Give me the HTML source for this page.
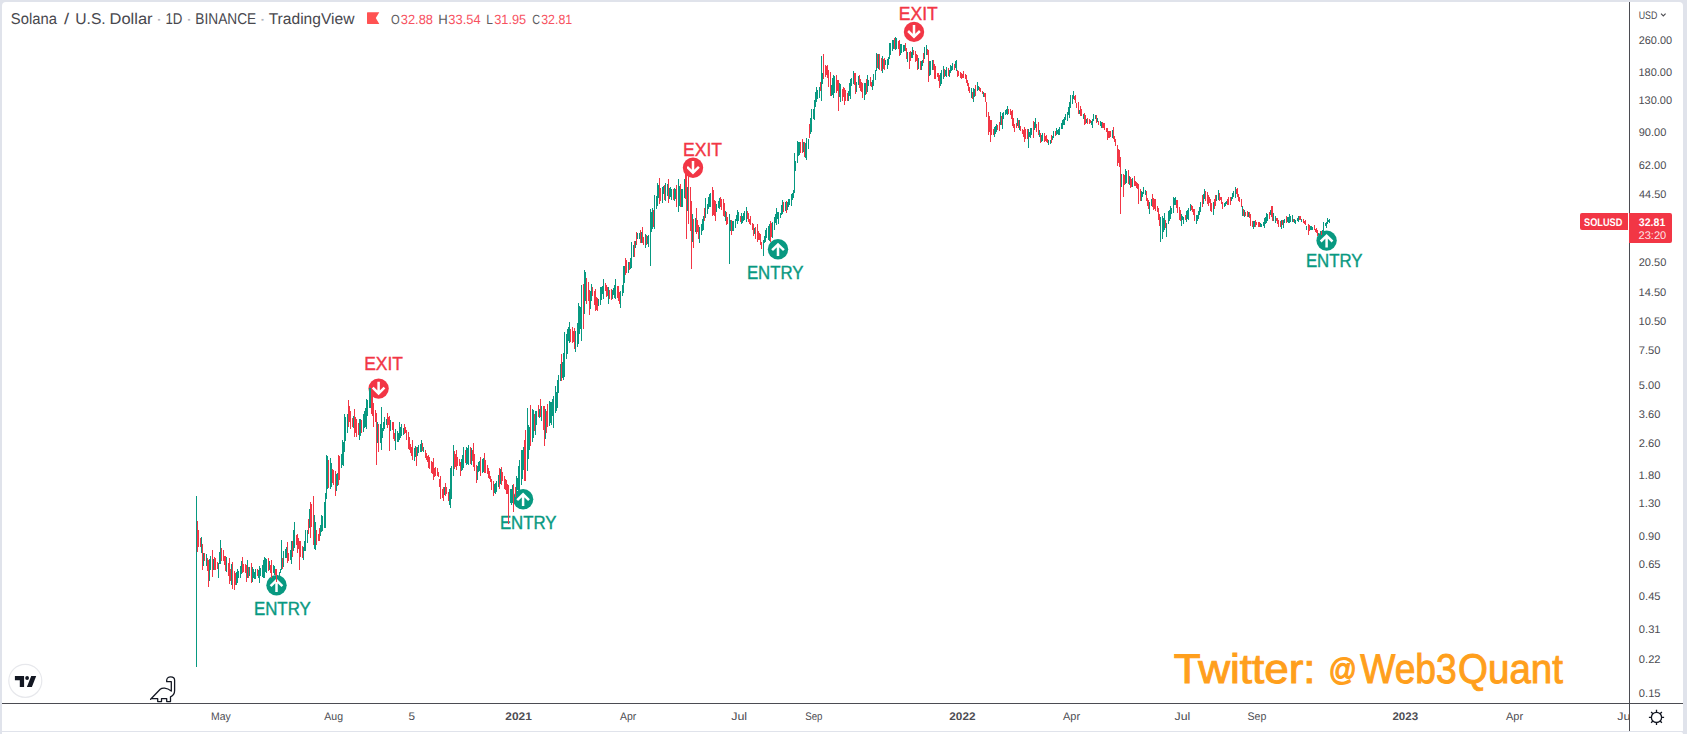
<!DOCTYPE html>
<html lang="en">
<head>
<meta charset="utf-8">
<title>Solana / U.S. Dollar - 1D - BINANCE - TradingView</title>
<style>
html,body{margin:0;padding:0;background:#e0e3eb;}
body{width:1687px;height:734px;overflow:hidden;}
svg{display:block;}
text{font-family:"Liberation Sans", Arial, sans-serif;text-rendering:geometricPrecision;}
</style>
</head>
<body>
<svg width="1687" height="734" viewBox="0 0 1687 734">
<rect x="0" y="0" width="1687" height="734" fill="#e0e3eb"/>
<path d="M2 6a4 4 0 0 1 4-4h1673a4 4 0 0 1 4 4v725h-1681z" fill="#fff"/>
<path d="M2 732h1679a2 2 0 0 1 2 2h-1681z" fill="#fff"/>
<g id="time-axis">
<text transform="translate(1617.21 719.90) scale(1.1318 1)" font-size="11" fill="#4c4c52">Jul</text>
<rect x="1629" y="704" width="54" height="27" fill="#fff"/>
<text transform="translate(211.08 719.90) scale(0.9487 1)" font-size="11" fill="#4c4c52">May</text>
<text transform="translate(324.30 719.90) scale(0.9549 1)" font-size="11" fill="#4c4c52">Aug</text>
<text transform="translate(408.53 719.90) scale(1.0698 1)" font-size="11" fill="#4c4c52">5</text>
<text transform="translate(505.33 719.90) scale(1.0816 1)" font-size="11" font-weight="bold" fill="#4c4c52">2021</text>
<text transform="translate(620.10 719.90) scale(0.9494 1)" font-size="11" fill="#4c4c52">Apr</text>
<text transform="translate(731.21 719.90) scale(1.1318 1)" font-size="11" fill="#4c4c52">Jul</text>
<text transform="translate(805.20 719.90) scale(0.8838 1)" font-size="11" fill="#4c4c52">Sep</text>
<text transform="translate(949.33 719.90) scale(1.0690 1)" font-size="11" font-weight="bold" fill="#4c4c52">2022</text>
<text transform="translate(1063.00 719.90) scale(0.9963 1)" font-size="11" fill="#4c4c52">Apr</text>
<text transform="translate(1174.51 719.90) scale(1.1166 1)" font-size="11" fill="#4c4c52">Jul</text>
<text transform="translate(1247.47 719.90) scale(0.9637 1)" font-size="11" fill="#4c4c52">Sep</text>
<text transform="translate(1392.44 719.90) scale(1.0481 1)" font-size="11" font-weight="bold" fill="#4c4c52">2023</text>
<text transform="translate(1506.00 719.90) scale(0.9963 1)" font-size="11" fill="#4c4c52">Apr</text>
</g>
<rect x="2" y="703" width="1681" height="1" fill="#4b4c52"/>
<rect x="1629" y="2" width="1" height="729" fill="#4b4c52"/>
<g id="price-axis">
<text transform="translate(1638.69 43.50) scale(0.9922 1)" font-size="11" fill="#4c4c52">260.00</text>
<text transform="translate(1638.51 75.70) scale(0.9975 1)" font-size="11" fill="#4c4c52">180.00</text>
<text transform="translate(1638.51 104.19) scale(0.9975 1)" font-size="11" fill="#4c4c52">130.00</text>
<text transform="translate(1638.68 136.39) scale(1.0023 1)" font-size="11" fill="#4c4c52">90.00</text>
<text transform="translate(1638.68 169.02) scale(1.0023 1)" font-size="11" fill="#4c4c52">62.00</text>
<text transform="translate(1639.03 198.06) scale(0.9896 1)" font-size="11" fill="#4c4c52">44.50</text>
<text transform="translate(1638.68 265.92) scale(1.0023 1)" font-size="11" fill="#4c4c52">20.50</text>
<text transform="translate(1638.51 296.24) scale(1.0088 1)" font-size="11" fill="#4c4c52">14.50</text>
<text transform="translate(1638.51 324.51) scale(1.0088 1)" font-size="11" fill="#4c4c52">10.50</text>
<text transform="translate(1638.68 353.97) scale(1.0136 1)" font-size="11" fill="#4c4c52">7.50</text>
<text transform="translate(1638.85 389.47) scale(1.0052 1)" font-size="11" fill="#4c4c52">5.00</text>
<text transform="translate(1638.85 418.23) scale(1.0052 1)" font-size="11" fill="#4c4c52">3.60</text>
<text transform="translate(1638.68 446.73) scale(1.0136 1)" font-size="11" fill="#4c4c52">2.60</text>
<text transform="translate(1638.50 478.93) scale(1.0221 1)" font-size="11" fill="#4c4c52">1.80</text>
<text transform="translate(1638.50 507.42) scale(1.0221 1)" font-size="11" fill="#4c4c52">1.30</text>
<text transform="translate(1638.85 539.62) scale(1.0052 1)" font-size="11" fill="#4c4c52">0.90</text>
<text transform="translate(1638.85 568.11) scale(1.0136 1)" font-size="11" fill="#4c4c52">0.65</text>
<text transform="translate(1638.85 600.31) scale(1.0136 1)" font-size="11" fill="#4c4c52">0.45</text>
<text transform="translate(1638.85 632.94) scale(1.0136 1)" font-size="11" fill="#4c4c52">0.31</text>
<text transform="translate(1638.85 662.97) scale(1.0136 1)" font-size="11" fill="#4c4c52">0.22</text>
<text transform="translate(1638.85 696.51) scale(1.0136 1)" font-size="11" fill="#4c4c52">0.15</text>
<text transform="translate(1638.65 18.80) scale(0.8034 1)" font-size="11" fill="#4c4c52">USD</text>
<path d="M1661 13.6l2.3 2.3 2.3-2.3" fill="none" stroke="#4c4c52" stroke-width="1.1"/>
</g>
<path d="M1582 213h46v17h-46a2 2 0 0 1-2-2v-13a2 2 0 0 1 2-2z" fill="#f23645"/>
<path d="M1629 213h41a2 2 0 0 1 2 2v26a2 2 0 0 1-2 2h-41z" fill="#f23645"/>
<text transform="translate(1584.06 225.80) scale(0.8347 1)" font-size="11" font-weight="bold" fill="#fff">SOLUSD</text>
<text transform="translate(1638.83 225.80) scale(0.9601 1)" font-size="11" font-weight="bold" fill="#fff">32.81</text>
<text transform="translate(1638.48 238.80) scale(1.0098 1)" font-size="11" fill="#fff" fill-opacity="0.88">23:20</text>
<g id="legend">
<text transform="translate(10.84 24.00) scale(0.9484 1)" font-size="15.6" fill="#48484e">Solana</text>
<text transform="translate(63.90 24.00) scale(1.1852 1)" font-size="15.6" fill="#48484e">/</text>
<text transform="translate(75.22 24.00) scale(1.0052 1)" font-size="15.6" fill="#48484e">U.S.</text>
<text transform="translate(109.51 24.00) scale(1.0570 1)" font-size="15.6" fill="#48484e">Dollar</text>
<text transform="translate(155.40 24.00) scale(1.3480 1)" font-size="15.6" fill="#b2b5be">·</text>
<text transform="translate(165.47 24.00) scale(0.8521 1)" font-size="15.6" fill="#48484e">1D</text>
<text transform="translate(185.40 24.00) scale(1.3480 1)" font-size="15.6" fill="#b2b5be">·</text>
<text transform="translate(195.33 24.00) scale(0.8789 1)" font-size="15.6" fill="#48484e">BINANCE</text>
<text transform="translate(259.00 24.00) scale(1.3480 1)" font-size="15.6" fill="#b2b5be">·</text>
<text transform="translate(268.66 24.00) scale(1.0001 1)" font-size="15.6" fill="#48484e">TradingView</text>
<path d="M367.6 12.3h11.7l-3.5 5.8 3.5 5.8h-11.7a.6 .6 0 0 1-.6-.6v-10.4a.6 .6 0 0 1 .6-.6z" fill="#ff5252"/>
<text transform="translate(391.08 24.20) scale(0.8358 1)" font-size="13.4" fill="#5c5c60">O</text>
<text transform="translate(400.80 24.20) scale(0.9610 1)" font-size="13.4" fill="#f7525f">32.88</text>
<text transform="translate(438.37 24.20) scale(0.9818 1)" font-size="13.4" fill="#5c5c60">H</text>
<text transform="translate(448.30 24.20) scale(0.9640 1)" font-size="13.4" fill="#f7525f">33.54</text>
<text transform="translate(486.27 24.20) scale(0.8893 1)" font-size="13.4" fill="#5c5c60">L</text>
<text transform="translate(494.20 24.20) scale(0.9548 1)" font-size="13.4" fill="#f7525f">31.95</text>
<text transform="translate(532.20 24.20) scale(0.8038 1)" font-size="13.4" fill="#5c5c60">C</text>
<text transform="translate(541.21 24.20) scale(0.9241 1)" font-size="13.4" fill="#f7525f">32.81</text>
</g>
<text transform="translate(1173.71 682.60) scale(1.0633 1)" font-size="41.4" fill="#ff9f1c" stroke="#ff9f1c" stroke-width="1">Twitter:</text>
<text transform="translate(1328.65 680.40) scale(0.8896 1)" font-size="31" fill="#ff9f1c" stroke="#ff9f1c" stroke-width="1.3">@</text>
<text transform="translate(1360.20 682.60) scale(0.8995 1)" font-size="41.4" fill="#ff9f1c" stroke="#ff9f1c" stroke-width="1">Web3</text>
<text transform="translate(1458.10 682.60) scale(0.9290 1)" font-size="41.4" fill="#ff9f1c" stroke="#ff9f1c" stroke-width="1">Quant</text>
<g id="tv-logo">
<circle cx="25.3" cy="680.8" r="16.5" fill="#fff" stroke="#e7e8ec" stroke-width="1.2"/>
<path d="M14.9 675.9h9.2v11h-4.3v-6.7h-4.9z" fill="#131722"/>
<circle cx="27.1" cy="678" r="1.9" fill="#131722"/>
<path d="M31.2 675.9h5l-4.3 11h-5z" fill="#131722"/>
</g>
<path transform="translate(140 670)" d="M10.6 29.3 L20.2 19.3 C22 17.6 26.5 17.2 31.3 21 V11.7 H26.7 V10.3 C26.7 5.6 34.6 5.6 34.6 10.3 V20.5 C34.6 24 32.5 26 30.5 26.9 V31.6 H26.7 V28.6 H21.5 V31.6 H17.7 V28.6 H11.5 Z" fill="none" stroke="#131722" stroke-width="1.3" stroke-linejoin="round"/>
<g fill="none" stroke="#131722" stroke-width="1.3"><circle cx="1656.5" cy="717.4" r="5.1"/><path d="M1661.60 717.40L1664.10 717.40M1660.11 721.01L1661.87 722.77M1656.50 722.50L1656.50 725.00M1652.89 721.01L1651.13 722.77M1651.40 717.40L1648.90 717.40M1652.89 713.79L1651.13 712.03M1656.50 712.30L1656.50 709.80M1660.11 713.79L1661.87 712.03"/></g>
<g id="markers">
<circle cx="276.5" cy="585.2" r="10.2" fill="#089981"/>
<path d="M276.5 592.0V580.2M270.6 586.1L276.5 580.3L282.4 586.1" fill="none" stroke="#fff" stroke-width="2.5" stroke-linejoin="miter"/>
<text transform="translate(253.88 614.70) scale(0.8900 1)" font-size="19.0" fill="#089981" stroke="#089981" stroke-width="0.4">ENTRY</text>
<circle cx="378.6" cy="388.6" r="10.2" fill="#f23645"/>
<path d="M378.6 381.8V393.6M372.7 387.7L378.6 393.5L384.5 387.7" fill="none" stroke="#fff" stroke-width="2.5" stroke-linejoin="miter"/>
<text transform="translate(364.14 369.80) scale(0.9178 1)" font-size="19.0" fill="#f23645" stroke="#f23645" stroke-width="0.4">EXIT</text>
<circle cx="523.1" cy="499.2" r="10.2" fill="#089981"/>
<path d="M523.1 506.0V494.2M517.2 500.1L523.1 494.3L529.0 500.1" fill="none" stroke="#fff" stroke-width="2.5" stroke-linejoin="miter"/>
<text transform="translate(499.89 528.80) scale(0.8852 1)" font-size="19.0" fill="#089981" stroke="#089981" stroke-width="0.4">ENTRY</text>
<circle cx="693" cy="167.8" r="10.2" fill="#f23645"/>
<path d="M693 161.0V172.8M687.1 166.9L693 172.7L698.9 166.9" fill="none" stroke="#fff" stroke-width="2.5" stroke-linejoin="miter"/>
<text transform="translate(683.03 155.80) scale(0.9228 1)" font-size="19.0" fill="#f23645" stroke="#f23645" stroke-width="0.4">EXIT</text>
<circle cx="778" cy="249.3" r="10.2" fill="#089981"/>
<path d="M778 256.1V244.3M772.1 250.2L778 244.4L783.9 250.2" fill="none" stroke="#fff" stroke-width="2.5" stroke-linejoin="miter"/>
<text transform="translate(746.89 279.00) scale(0.8852 1)" font-size="19.0" fill="#089981" stroke="#089981" stroke-width="0.4">ENTRY</text>
<circle cx="914" cy="31.9" r="10.2" fill="#f23645"/>
<path d="M914 25.1V36.9M908.1 31.0L914 36.8L919.9 31.0" fill="none" stroke="#fff" stroke-width="2.5" stroke-linejoin="miter"/>
<text transform="translate(898.83 19.90) scale(0.9203 1)" font-size="19.0" fill="#f23645" stroke="#f23645" stroke-width="0.4">EXIT</text>
<circle cx="1326.6" cy="240.6" r="10.2" fill="#089981"/>
<path d="M1326.6 247.4V235.6M1320.7 241.5L1326.6 235.7L1332.5 241.5" fill="none" stroke="#fff" stroke-width="2.5" stroke-linejoin="miter"/>
<text transform="translate(1305.89 266.80) scale(0.8852 1)" font-size="19.0" fill="#089981" stroke="#089981" stroke-width="0.4">ENTRY</text>
</g>
<g id="candles" shape-rendering="crispEdges"><path d="M196 496v171h1v-171zM201 537v16h1v-16zM203 553v13h1v-13zM206 554v12h1v-12zM209 559v22h1v-22zM210 556v14h1v-14zM213 559v11h1v-11zM218 563v15h1v-15zM219 552v12h1v-12zM220 540v24h1v-24zM226 557v15h1v-15zM231 564v21h1v-21zM236 572v13h1v-13zM237 569v14h1v-14zM238 571v7h1v-7zM240 566v12h1v-12zM241 561v13h1v-13zM247 560v18h1v-18zM249 567v9h1v-9zM252 567v15h1v-15zM253 569v9h1v-9zM254 572v7h1v-7zM255 569v10h1v-10zM258 570v8h1v-8zM259 566v17h1v-17zM260 568v8h1v-8zM262 565v12h1v-12zM263 560v18h1v-18zM264 557v21h1v-21zM265 558v14h1v-14zM266 559v14h1v-14zM269 561v9h1v-9zM273 565v8h1v-8zM274 566v9h1v-9zM277 575v4h1v-4zM279 572v6h1v-6zM280 569v4h1v-4zM281 540v30h1v-30zM283 551v16h1v-16zM285 549v9h1v-9zM286 547v11h1v-11zM290 550v10h1v-10zM291 541v23h1v-23zM293 530v21h1v-21zM294 522v26h1v-26zM303 547v13h1v-13zM304 541v10h1v-10zM305 530v21h1v-21zM307 530v13h1v-13zM309 509v19h1v-19zM314 515v34h1v-34zM315 522v28h1v-28zM320 525v11h1v-11zM321 515v17h1v-17zM322 516v15h1v-15zM324 502v26h1v-26zM325 493v35h1v-35zM326 455v44h1v-44zM327 456v33h1v-33zM330 458v31h1v-31zM331 463v24h1v-24zM336 474v17h1v-17zM337 473v13h1v-13zM341 454v14h1v-14zM342 440v25h1v-25zM343 442v24h1v-24zM344 414v38h1v-38zM345 417v24h1v-24zM347 414v19h1v-19zM353 416v12h1v-12zM359 419v21h1v-21zM360 419v17h1v-17zM363 414v18h1v-18zM364 411v17h1v-17zM365 408v19h1v-19zM366 399v30h1v-30zM367 400v16h1v-16zM369 388v20h1v-20zM370 388v20h1v-20zM377 422v21h1v-21zM380 424v19h1v-19zM381 407v43h1v-43zM382 428v10h1v-10zM383 422v9h1v-9zM384 417v12h1v-12zM386 419v6h1v-6zM390 420v11h1v-11zM395 429v21h1v-21zM397 431v11h1v-11zM398 433v9h1v-9zM399 422v18h1v-18zM400 427v11h1v-11zM401 424v12h1v-12zM403 428v7h1v-7zM414 448v13h1v-13zM415 446v11h1v-11zM417 447v9h1v-9zM418 445v8h1v-8zM420 444v8h1v-8zM421 440v12h1v-12zM423 447v5h1v-5zM444 487v8h1v-8zM449 489v16h1v-16zM450 468v40h1v-40zM451 466v33h1v-33zM453 445v31h1v-31zM461 459v12h1v-12zM462 455v15h1v-15zM463 447v21h1v-21zM466 447v18h1v-18zM467 448v16h1v-16zM468 445v20h1v-20zM471 448v17h1v-17zM477 466v14h1v-14zM478 462v10h1v-10zM479 461v10h1v-10zM482 459v14h1v-14zM483 458v14h1v-14zM494 484v9h1v-9zM495 483v11h1v-11zM496 481v11h1v-11zM498 475v12h1v-12zM500 469v15h1v-15zM510 489v14h1v-14zM511 489v16h1v-16zM512 485v18h1v-18zM516 476v20h1v-20zM517 478v12h1v-12zM518 466v25h1v-25zM519 460v32h1v-32zM521 450v35h1v-35zM522 450v29h1v-29zM523 447v23h1v-23zM527 408v63h1v-63zM528 425v34h1v-34zM529 427v23h1v-23zM532 409v33h1v-33zM533 410v28h1v-28zM535 411v24h1v-24zM536 411v14h1v-14zM539 409v9h1v-9zM541 406v15h1v-15zM545 409v30h1v-30zM549 401v25h1v-25zM550 402v21h1v-21zM551 402v23h1v-23zM552 399v17h1v-17zM553 396v32h1v-32zM555 386v27h1v-27zM556 392v19h1v-19zM557 380v28h1v-28zM558 375v18h1v-18zM560 364v17h1v-17zM562 362v16h1v-16zM563 353v27h1v-27zM564 332v45h1v-45zM566 334v25h1v-25zM567 329v25h1v-25zM568 327v14h1v-14zM569 322v21h1v-21zM575 331v21h1v-21zM577 323v24h1v-24zM578 303v41h1v-41zM579 306v28h1v-28zM580 307v22h1v-22zM581 285v56h1v-56zM584 270v44h1v-44zM585 272v29h1v-29zM590 291v18h1v-18zM591 284v17h1v-17zM598 299v7h1v-7zM600 287v18h1v-18zM601 287v13h1v-13zM602 286v8h1v-8zM603 279v20h1v-20zM608 287v17h1v-17zM612 290v9h1v-9zM613 288v7h1v-7zM614 285v13h1v-13zM615 279v20h1v-20zM620 291v17h1v-17zM622 285v11h1v-11zM623 266v27h1v-27zM624 266v17h1v-17zM628 262v11h1v-11zM630 258v11h1v-11zM631 242v26h1v-26zM633 245v12h1v-12zM635 241v7h1v-7zM637 233v6h1v-6zM639 233v6h1v-6zM641 232v11h1v-11zM645 234v14h1v-14zM647 236v8h1v-8zM648 235v12h1v-12zM650 209v57h1v-57zM651 212v20h1v-20zM652 208v21h1v-21zM654 195v34h1v-34zM656 196v13h1v-13zM657 183v23h1v-23zM658 185v13h1v-13zM662 187v16h1v-16zM663 186v8h1v-8zM665 183v18h1v-18zM667 184v12h1v-12zM669 188v11h1v-11zM670 187v10h1v-10zM671 189v11h1v-11zM674 188v13h1v-13zM675 189v10h1v-10zM678 179v33h1v-33zM679 186v20h1v-20zM681 189v18h1v-18zM682 189v18h1v-18zM684 179v19h1v-19zM687 187v24h1v-24zM692 214v28h1v-28zM695 218v14h1v-14zM699 227v16h1v-16zM701 224v11h1v-11zM702 219v12h1v-12zM703 216v14h1v-14zM705 198v20h1v-20zM707 204v10h1v-10zM708 197v12h1v-12zM709 194v13h1v-13zM710 193v14h1v-14zM716 204v8h1v-8zM718 201v7h1v-7zM719 198v11h1v-11zM725 211v10h1v-10zM729 214v50h1v-50zM730 220v11h1v-11zM732 221v10h1v-10zM733 221v10h1v-10zM735 219v9h1v-9zM736 215v6h1v-6zM737 210v14h1v-14zM738 212v9h1v-9zM741 213v11h1v-11zM742 216v7h1v-7zM743 213v8h1v-8zM744 211v9h1v-9zM746 207v15h1v-15zM754 228v6h1v-6zM763 240v16h1v-16zM764 236v7h1v-7zM765 230v12h1v-12zM766 228v10h1v-10zM768 226v14h1v-14zM769 224v17h1v-17zM772 222v16h1v-16zM774 217v13h1v-13zM775 214v9h1v-9zM776 208v17h1v-17zM777 212v7h1v-7zM778 212v12h1v-12zM780 213v5h1v-5zM781 205v10h1v-10zM782 200v14h1v-14zM785 202v9h1v-9zM787 202v8h1v-8zM788 199v8h1v-8zM789 199v6h1v-6zM791 194v12h1v-12zM792 193v7h1v-7zM793 190v8h1v-8zM794 153v40h1v-40zM795 161v10h1v-10zM797 141v22h1v-22zM798 142v14h1v-14zM799 142v13h1v-13zM803 142v10h1v-10zM805 143v15h1v-15zM806 138v22h1v-22zM808 139v10h1v-10zM810 118v16h1v-16zM811 109v23h1v-23zM813 109v10h1v-10zM814 100v20h1v-20zM815 92v15h1v-15zM816 87v15h1v-15zM817 90v9h1v-9zM819 87v11h1v-11zM821 56v45h1v-45zM822 73v11h1v-11zM831 85v11h1v-11zM832 78v17h1v-17zM833 75v23h1v-23zM834 76v17h1v-17zM839 83v14h1v-14zM840 84v18h1v-18zM848 91v10h1v-10zM849 83v13h1v-13zM850 79v20h1v-20zM851 78v8h1v-8zM853 71v13h1v-13zM856 82v10h1v-10zM858 76v9h1v-9zM864 83v17h1v-17zM865 83v12h1v-12zM867 75v17h1v-17zM868 80v6h1v-6zM872 80v10h1v-10zM873 74v12h1v-12zM875 70v10h1v-10zM876 53v18h1v-18zM878 54v15h1v-15zM882 56v17h1v-17zM885 60v5h1v-5zM887 59v10h1v-10zM888 57v8h1v-8zM889 43v16h1v-16zM890 43v12h1v-12zM892 40v11h1v-11zM893 40v9h1v-9zM895 37v13h1v-13zM896 38v11h1v-11zM900 44v11h1v-11zM901 44v9h1v-9zM903 45v7h1v-7zM904 45v6h1v-6zM907 52v10h1v-10zM911 52v6h1v-6zM912 47v11h1v-11zM918 58v11h1v-11zM921 61v9h1v-9zM922 60v6h1v-6zM924 47v12h1v-12zM926 45v10h1v-10zM929 61v15h1v-15zM930 61v14h1v-14zM932 60v10h1v-10zM940 73v13h1v-13zM941 70v14h1v-14zM943 66v13h1v-13zM945 70v6h1v-6zM946 67v10h1v-10zM949 70v7h1v-7zM950 65v8h1v-8zM951 66v5h1v-5zM952 63v7h1v-7zM955 61v7h1v-7zM956 60v11h1v-11zM971 88v10h1v-10zM973 88v14h1v-14zM974 89v8h1v-8zM977 82v9h1v-9zM978 86v4h1v-4zM983 92v5h1v-5zM994 127v10h1v-10zM995 126v8h1v-8zM996 124v8h1v-8zM1000 112v13h1v-13zM1002 113v16h1v-16zM1003 112v7h1v-7zM1005 110v5h1v-5zM1006 109v5h1v-5zM1007 106v9h1v-9zM1017 118v8h1v-8zM1019 120v10h1v-10zM1028 129v19h1v-19zM1029 132v5h1v-5zM1030 128v10h1v-10zM1031 128v7h1v-7zM1034 122v8h1v-8zM1035 118v10h1v-10zM1039 130v7h1v-7zM1041 135v7h1v-7zM1042 133v8h1v-8zM1048 140v5h1v-5zM1050 140v4h1v-4zM1052 136v4h1v-4zM1053 131v7h1v-7zM1056 128v7h1v-7zM1057 130v4h1v-4zM1058 129v6h1v-6zM1059 127v8h1v-8zM1061 123v6h1v-6zM1062 120v9h1v-9zM1063 119v6h1v-6zM1064 117v8h1v-8zM1065 114v6h1v-6zM1067 112v9h1v-9zM1068 107v8h1v-8zM1069 102v16h1v-16zM1070 95v13h1v-13zM1072 95v9h1v-9zM1073 91v8h1v-8zM1079 110v4h1v-4zM1083 114v5h1v-5zM1086 119v4h1v-4zM1091 121v4h1v-4zM1092 119v9h1v-9zM1093 114v7h1v-7zM1095 115v4h1v-4zM1097 118v4h1v-4zM1100 121v5h1v-5zM1101 122v6h1v-6zM1112 130v8h1v-8zM1121 174v13h1v-13zM1125 169v15h1v-15zM1126 171v12h1v-12zM1129 176v9h1v-9zM1132 178v9h1v-9zM1141 191v10h1v-10zM1142 192v5h1v-5zM1143 187v7h1v-7zM1145 190v5h1v-5zM1149 202v12h1v-12zM1151 199v7h1v-7zM1160 217v25h1v-25zM1162 216v23h1v-23zM1163 218v14h1v-14zM1164 213v17h1v-17zM1166 223v14h1v-14zM1168 211v13h1v-13zM1169 210v11h1v-11zM1170 206v13h1v-13zM1171 208v6h1v-6zM1173 197v16h1v-16zM1174 198v7h1v-7zM1175 197v8h1v-8zM1181 214v12h1v-12zM1182 216v4h1v-4zM1183 217v7h1v-7zM1186 211v11h1v-11zM1187 210v9h1v-9zM1188 208v12h1v-12zM1190 204v7h1v-7zM1196 215v9h1v-9zM1197 215v6h1v-6zM1198 211v8h1v-8zM1199 207v8h1v-8zM1200 202v10h1v-10zM1203 194v10h1v-10zM1204 189v10h1v-10zM1213 202v13h1v-13zM1216 195v6h1v-6zM1218 190v10h1v-10zM1224 203v4h1v-4zM1225 202v4h1v-4zM1226 201v3h1v-3zM1231 197v4h1v-4zM1232 193v6h1v-6zM1233 191v6h1v-6zM1235 187v11h1v-11zM1242 206v10h1v-10zM1244 210v7h1v-7zM1248 212v5h1v-5zM1253 221v8h1v-8zM1254 221v6h1v-6zM1260 223v4h1v-4zM1261 224v3h1v-3zM1263 222v4h1v-4zM1264 218v10h1v-10zM1265 217v7h1v-7zM1266 213v10h1v-10zM1267 214v7h1v-7zM1270 210v5h1v-5zM1273 213v8h1v-8zM1275 216v7h1v-7zM1281 220v9h1v-9zM1283 220v8h1v-8zM1284 219v4h1v-4zM1287 217v5h1v-5zM1288 217v6h1v-6zM1289 214v9h1v-9zM1290 216v6h1v-6zM1292 215v7h1v-7zM1294 219v4h1v-4zM1295 220v4h1v-4zM1297 218v3h1v-3zM1298 216v6h1v-6zM1301 219v3h1v-3zM1306 226v4h1v-4zM1310 226v4h1v-4zM1311 226v4h1v-4zM1312 227v3h1v-3zM1318 233v2h1v-2zM1320 231v5h1v-5zM1322 230v5h1v-5zM1323 222v10h1v-10zM1325 223v3h1v-3zM1326 222v6h1v-6zM1327 218v6h1v-6zM1328 220v2h1v-2zM1329 219v4h1v-4z" fill="#089981"/><path d="M197 521v31h1v-31zM198 530v17h1v-17zM200 538v9h1v-9zM202 544v26h1v-26zM204 553v8h1v-8zM207 558v13h1v-13zM208 560v27h1v-27zM212 550v27h1v-27zM214 557v13h1v-13zM215 558v12h1v-12zM217 562v7h1v-7zM221 548v13h1v-13zM223 550v11h1v-11zM224 556v9h1v-9zM225 556v15h1v-15zM228 563v13h1v-13zM229 558v26h1v-26zM230 569v12h1v-12zM232 562v27h1v-27zM234 571v19h1v-19zM235 573v12h1v-12zM242 557v16h1v-16zM243 564v8h1v-8zM245 564v9h1v-9zM246 565v17h1v-17zM248 567v11h1v-11zM251 563v20h1v-20zM257 569v7h1v-7zM268 558v13h1v-13zM270 565v8h1v-8zM271 560v18h1v-18zM275 569v6h1v-6zM276 569v13h1v-13zM282 558v11h1v-11zM287 542v21h1v-21zM288 553v8h1v-8zM292 541v16h1v-16zM296 535v10h1v-10zM297 534v19h1v-19zM298 538v11h1v-11zM299 541v29h1v-29zM300 541v16h1v-16zM302 546v12h1v-12zM308 519v15h1v-15zM310 502v36h1v-36zM311 504v23h1v-23zM313 496v49h1v-49zM316 530v15h1v-15zM318 534v7h1v-7zM319 528v13h1v-13zM328 460v28h1v-28zM332 469v14h1v-14zM333 470v15h1v-15zM335 471v25h1v-25zM338 455v30h1v-30zM339 456v24h1v-24zM348 400v27h1v-27zM349 406v16h1v-16zM350 411v18h1v-18zM352 418v9h1v-9zM354 409v28h1v-28zM355 417v16h1v-16zM356 419v18h1v-18zM358 423v12h1v-12zM361 420v13h1v-13zM371 386v28h1v-28zM372 394v22h1v-22zM373 403v24h1v-24zM375 410v12h1v-12zM376 413v52h1v-52zM378 424v28h1v-28zM387 413v15h1v-15zM388 417v8h1v-8zM389 416v35h1v-35zM392 422v8h1v-8zM393 422v17h1v-17zM394 433v8h1v-8zM404 424v10h1v-10zM405 427v6h1v-6zM406 430v10h1v-10zM408 432v17h1v-17zM409 437v13h1v-13zM410 444v9h1v-9zM411 447v9h1v-9zM412 440v20h1v-20zM416 447v19h1v-19zM422 443v8h1v-8zM425 450v8h1v-8zM426 453v7h1v-7zM427 456v6h1v-6zM428 455v13h1v-13zM429 457v12h1v-12zM431 461v12h1v-12zM432 462v12h1v-12zM433 458v22h1v-22zM434 468v9h1v-9zM435 467v9h1v-9zM437 468v8h1v-8zM438 472v5h1v-5zM439 479v8h1v-8zM440 476v23h1v-23zM442 489v9h1v-9zM443 487v14h1v-14zM445 483v13h1v-13zM446 487v7h1v-7zM448 492v9h1v-9zM454 451v18h1v-18zM455 454v13h1v-13zM456 450v20h1v-20zM457 457v9h1v-9zM459 459v7h1v-7zM460 462v14h1v-14zM465 450v13h1v-13zM470 447v17h1v-17zM472 450v11h1v-11zM473 443v24h1v-24zM474 454v17h1v-17zM476 465v18h1v-18zM480 457v19h1v-19zM484 453v20h1v-20zM485 460v13h1v-13zM487 465v9h1v-9zM488 468v10h1v-10zM489 471v8h1v-8zM490 476v6h1v-6zM491 479v11h1v-11zM493 481v15h1v-15zM499 468v21h1v-21zM501 467v18h1v-18zM502 472v9h1v-9zM504 476v13h1v-13zM505 479v11h1v-11zM506 480v14h1v-14zM507 484v10h1v-10zM508 485v39h1v-39zM513 484v28h1v-28zM515 487v10h1v-10zM524 440v41h1v-41zM525 430v51h1v-51zM530 405v41h1v-41zM534 414v17h1v-17zM538 405v12h1v-12zM540 399v18h1v-18zM543 406v24h1v-24zM544 406v40h1v-40zM546 411v22h1v-22zM547 404v23h1v-23zM561 354v27h1v-27zM570 329v13h1v-13zM572 327v16h1v-16zM573 331v11h1v-11zM574 328v21h1v-21zM583 284v45h1v-45zM586 278v26h1v-26zM588 282v19h1v-19zM589 290v25h1v-25zM592 287v9h1v-9zM594 291v14h1v-14zM595 289v22h1v-22zM596 297v13h1v-13zM597 298v13h1v-13zM605 283v8h1v-8zM606 285v12h1v-12zM607 287v9h1v-9zM609 290v9h1v-9zM611 289v11h1v-11zM617 286v12h1v-12zM618 286v15h1v-15zM619 292v12h1v-12zM625 258v17h1v-17zM626 260v13h1v-13zM629 262v8h1v-8zM634 241v16h1v-16zM636 232v13h1v-13zM640 230v13h1v-13zM642 227v16h1v-16zM643 237v8h1v-8zM646 235v10h1v-10zM653 210v17h1v-17zM659 178v26h1v-26zM660 188v13h1v-13zM664 185v15h1v-15zM668 179v24h1v-24zM673 189v11h1v-11zM676 185v22h1v-22zM680 184v23h1v-23zM685 167v32h1v-32zM686 166v73h1v-73zM688 175v49h1v-49zM690 187v44h1v-44zM691 201v68h1v-68zM693 219v29h1v-29zM696 208v26h1v-26zM697 220v12h1v-12zM698 225v14h1v-14zM704 208v13h1v-13zM712 187v29h1v-29zM713 190v25h1v-25zM714 200v16h1v-16zM715 201v20h1v-20zM720 197v10h1v-10zM721 199v11h1v-11zM723 199v17h1v-17zM724 203v14h1v-14zM726 212v13h1v-13zM727 217v7h1v-7zM731 220v15h1v-15zM740 216v6h1v-6zM747 211v8h1v-8zM748 213v9h1v-9zM749 219v5h1v-5zM750 216v9h1v-9zM752 223v7h1v-7zM753 224v12h1v-12zM755 227v12h1v-12zM757 224v18h1v-18zM758 231v9h1v-9zM759 233v7h1v-7zM760 234v11h1v-11zM761 242v7h1v-7zM770 221v21h1v-21zM771 223v14h1v-14zM783 202v10h1v-10zM786 201v12h1v-12zM800 142v11h1v-11zM802 139v14h1v-14zM804 142v15h1v-15zM809 124v14h1v-14zM820 82v9h1v-9zM823 54v25h1v-25zM825 65v12h1v-12zM826 66v9h1v-9zM827 65v13h1v-13zM828 70v17h1v-17zM830 72v24h1v-24zM836 75v18h1v-18zM837 80v11h1v-11zM838 80v31h1v-31zM842 89v12h1v-12zM843 87v10h1v-10zM844 88v17h1v-17zM845 90v11h1v-11zM847 93v8h1v-8zM854 73v12h1v-12zM855 73v21h1v-21zM859 75v13h1v-13zM860 79v12h1v-12zM861 82v10h1v-10zM862 83v15h1v-15zM866 79v15h1v-15zM870 77v9h1v-9zM871 82v5h1v-5zM877 54v14h1v-14zM879 54v16h1v-16zM881 58v13h1v-13zM883 59v10h1v-10zM884 58v12h1v-12zM894 38v11h1v-11zM898 41v8h1v-8zM899 40v16h1v-16zM905 43v8h1v-8zM906 48v11h1v-11zM909 52v17h1v-17zM910 51v10h1v-10zM913 50v5h1v-5zM915 51v11h1v-11zM916 54v7h1v-7zM917 55v15h1v-15zM920 61v9h1v-9zM923 53v10h1v-10zM927 49v6h1v-6zM928 50v32h1v-32zM933 60v10h1v-10zM934 64v15h1v-15zM935 66v13h1v-13zM937 73v4h1v-4zM938 73v8h1v-8zM939 75v13h1v-13zM944 69v8h1v-8zM948 68v8h1v-8zM954 64v6h1v-6zM957 70v7h1v-7zM958 71v5h1v-5zM960 72v6h1v-6zM961 73v6h1v-6zM962 74v4h1v-4zM963 71v7h1v-7zM965 74v5h1v-5zM966 75v8h1v-8zM967 80v6h1v-6zM968 83v8h1v-8zM969 87v6h1v-6zM972 92v7h1v-7zM975 85v11h1v-11zM979 87v4h1v-4zM980 88v4h1v-4zM982 91v3h1v-3zM984 93v4h1v-4zM985 93v9h1v-9zM986 102v15h1v-15zM988 112v23h1v-23zM989 116v16h1v-16zM990 120v22h1v-22zM991 120v15h1v-15zM993 129v6h1v-6zM997 125v5h1v-5zM999 122v9h1v-9zM1001 116v9h1v-9zM1008 109v5h1v-5zM1010 109v6h1v-6zM1011 111v8h1v-8zM1012 110v16h1v-16zM1013 118v10h1v-10zM1014 124v8h1v-8zM1016 123v5h1v-5zM1018 120v8h1v-8zM1020 126v5h1v-5zM1022 129v5h1v-5zM1023 130v7h1v-7zM1024 127v15h1v-15zM1025 129v10h1v-10zM1027 129v10h1v-10zM1033 121v17h1v-17zM1036 124v8h1v-8zM1038 122v13h1v-13zM1040 133v10h1v-10zM1044 133v9h1v-9zM1045 136v5h1v-5zM1046 135v7h1v-7zM1047 139v4h1v-4zM1051 135v8h1v-8zM1055 131v5h1v-5zM1074 96v4h1v-4zM1075 95v8h1v-8zM1076 103v5h1v-5zM1078 102v12h1v-12zM1080 106v10h1v-10zM1081 109v7h1v-7zM1084 113v12h1v-12zM1085 115v9h1v-9zM1087 118v6h1v-6zM1089 119v5h1v-5zM1090 120v3h1v-3zM1096 115v8h1v-8zM1098 121v4h1v-4zM1102 122v6h1v-6zM1103 123v5h1v-5zM1104 123v7h1v-7zM1106 128v4h1v-4zM1107 128v12h1v-12zM1108 131v7h1v-7zM1109 131v7h1v-7zM1110 131v6h1v-6zM1113 127v12h1v-12zM1114 136v6h1v-6zM1115 139v7h1v-7zM1117 145v21h1v-21zM1118 149v14h1v-14zM1119 150v17h1v-17zM1120 157v57h1v-57zM1123 174v23h1v-23zM1124 175v10h1v-10zM1128 170v14h1v-14zM1130 177v11h1v-11zM1131 179v8h1v-8zM1134 176v10h1v-10zM1135 181v5h1v-5zM1136 182v6h1v-6zM1137 183v6h1v-6zM1138 184v20h1v-20zM1140 189v12h1v-12zM1146 191v10h1v-10zM1147 198v8h1v-8zM1148 200v9h1v-9zM1152 194v13h1v-13zM1153 198v12h1v-12zM1154 199v10h1v-10zM1155 199v12h1v-12zM1157 206v6h1v-6zM1158 208v12h1v-12zM1159 214v12h1v-12zM1165 220v8h1v-8zM1176 200v8h1v-8zM1177 200v13h1v-13zM1179 207v13h1v-13zM1180 210v11h1v-11zM1185 215v5h1v-5zM1191 205v5h1v-5zM1192 206v6h1v-6zM1193 209v6h1v-6zM1194 209v12h1v-12zM1202 195v12h1v-12zM1205 191v10h1v-10zM1207 192v12h1v-12zM1208 195v11h1v-11zM1209 197v6h1v-6zM1210 199v12h1v-12zM1211 203v9h1v-9zM1214 199v10h1v-10zM1215 195v11h1v-11zM1219 193v8h1v-8zM1220 197v3h1v-3zM1221 197v7h1v-7zM1222 202v7h1v-7zM1227 199v6h1v-6zM1228 197v8h1v-8zM1230 197v8h1v-8zM1236 189v5h1v-5zM1237 188v9h1v-9zM1238 194v7h1v-7zM1239 197v5h1v-5zM1241 199v8h1v-8zM1243 209v7h1v-7zM1245 212v4h1v-4zM1247 211v6h1v-6zM1249 212v6h1v-6zM1250 214v12h1v-12zM1252 221v6h1v-6zM1255 220v7h1v-7zM1256 222v3h1v-3zM1258 222v5h1v-5zM1259 222v5h1v-5zM1269 212v7h1v-7zM1271 206v11h1v-11zM1272 206v15h1v-15zM1276 218v3h1v-3zM1277 218v6h1v-6zM1278 220v7h1v-7zM1280 221v6h1v-6zM1282 220v5h1v-5zM1286 216v7h1v-7zM1293 219v3h1v-3zM1299 216v4h1v-4zM1300 216v4h1v-4zM1303 219v4h1v-4zM1304 221v3h1v-3zM1305 220v5h1v-5zM1308 224v11h1v-11zM1309 225v6h1v-6zM1314 225v5h1v-5zM1315 229v3h1v-3zM1316 228v5h1v-5zM1317 230v6h1v-6zM1321 231v4h1v-4z" fill="#f23645"/></g>
</svg>
</body>
</html>
